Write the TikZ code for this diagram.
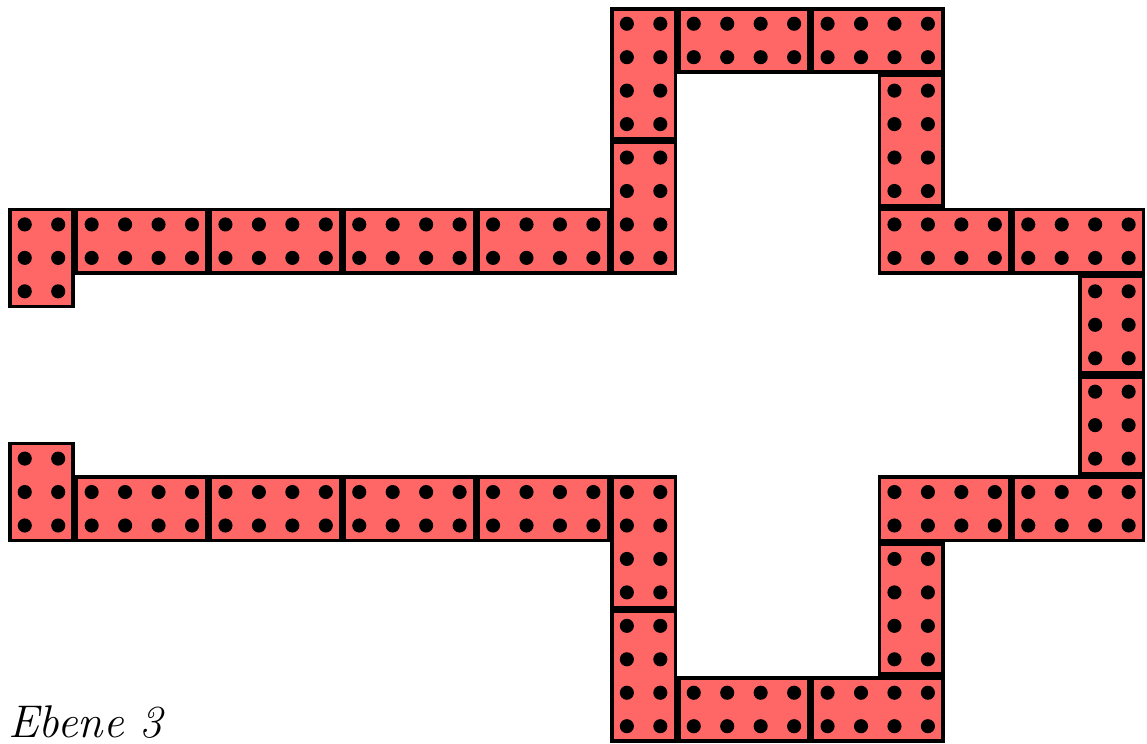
\documentclass[tikz,border=0pt]{standalone}
\usepackage{tikz}

\definecolor{brickred}{HTML}{FF6666}

\tikzset{
  brick/.style={draw=black, fill=brickred, line width=1.5pt},
  stud/.style={fill=black}
}

\begin{document}
\begin{tikzpicture}[x=0.5cm,y=-0.5cm]
	\useasboundingbox (-0.24,-0.21) rectangle (34.05,22.03);
	
	% bricks: x/y/width/height in studs
	\foreach \bx/\by/\bw/\bh in {
		0/6/2/3, 2/6/4/2, 6/6/4/2, 10/6/4/2, 14/6/4/2,
		18/0/2/4, 18/4/2/4, 20/0/4/2, 24/0/4/2, 26/2/2/4,
		26/6/4/2, 30/6/4/2, 32/8/2/3, 32/11/2/3,
		26/14/4/2, 30/14/4/2, 26/16/2/4, 20/20/4/2, 24/20/4/2,
		18/14/2/4, 18/18/2/4,
		2/14/4/2, 6/14/4/2, 10/14/4/2, 14/14/4/2, 0/13/2/3}
	{
		\draw[brick] (\bx+0.053,\by+0.053) rectangle (\bx+\bw-0.053,\by+\bh-0.053);
		\foreach \i in {1,...,\bw}
			\foreach \j in {1,...,\bh}
				\fill[stud] (\bx+\i-0.5,\by+\j-0.5) circle (3pt);
	}
	
	\node[anchor=base west, inner sep=0pt] (ebene) at (0,21.85)
		{\fontsize{19.5}{22}\selectfont\itshape Ebene 3};
\end{tikzpicture}
\end{document}
